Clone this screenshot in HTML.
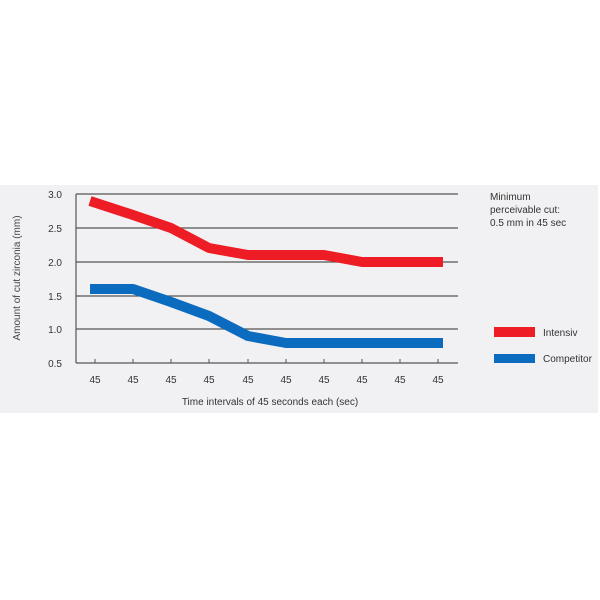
<!DOCTYPE html>
<html><head><style>body{margin:0;background:#fff}svg{display:block}</style></head><body>
<svg width="600" height="600" xmlns="http://www.w3.org/2000/svg" font-family="Liberation Sans, sans-serif">
<rect x="0" y="185" width="598" height="228" fill="#f1f1f3"/>
<g stroke="#555" stroke-width="1.2">
<line x1="76" y1="194" x2="458" y2="194"/>
<line x1="76" y1="228" x2="458" y2="228"/>
<line x1="76" y1="262" x2="458" y2="262"/>
<line x1="76" y1="296" x2="458" y2="296"/>
<line x1="76" y1="329" x2="458" y2="329"/>
<line x1="76" y1="363" x2="458" y2="363"/>
<line x1="76" y1="194" x2="76" y2="363"/>
</g>
<g stroke="#555" stroke-width="1">
<line x1="95" y1="363" x2="95" y2="359"/><line x1="133" y1="363" x2="133" y2="359"/><line x1="171" y1="363" x2="171" y2="359"/><line x1="209" y1="363" x2="209" y2="359"/><line x1="248" y1="363" x2="248" y2="359"/><line x1="286" y1="363" x2="286" y2="359"/><line x1="324" y1="363" x2="324" y2="359"/><line x1="362" y1="363" x2="362" y2="359"/><line x1="400" y1="363" x2="400" y2="359"/><line x1="438" y1="363" x2="438" y2="359"/>
</g>
<g font-size="10" fill="#333" text-anchor="end">
<text x="62" y="198">3.0</text><text x="62" y="232">2.5</text><text x="62" y="266">2.0</text><text x="62" y="300">1.5</text><text x="62" y="333">1.0</text><text x="62" y="367">0.5</text>
</g>
<g font-size="10" fill="#333" text-anchor="middle">
<text x="95" y="383">45</text><text x="133" y="383">45</text><text x="171" y="383">45</text><text x="209" y="383">45</text><text x="248" y="383">45</text><text x="286" y="383">45</text><text x="324" y="383">45</text><text x="362" y="383">45</text><text x="400" y="383">45</text><text x="438" y="383">45</text>
<text x="270" y="405">Time intervals of 45 seconds each (sec)</text>
</g>
<text transform="translate(20,278) rotate(-90)" font-size="10" fill="#444" text-anchor="middle">Amount of cut zirconia (mm)</text>
<polyline fill="none" stroke="#ee1c25" stroke-width="10" stroke-linejoin="round" points="90,201 133,215 171,228 209,248 248,255 286,255 324,255 362,262 400,262 443,262"/>
<polyline fill="none" stroke="#0b6bbf" stroke-width="10" stroke-linejoin="round" points="90,289 133,289 171,302 209,316 248,336 286,343 324,343 362,343 400,343 443,343"/>
<g font-size="10" fill="#333">
<text x="490" y="200">Minimum</text><text x="490" y="213">perceivable cut:</text><text x="490" y="226">0.5 mm in 45 sec</text>
<text x="543" y="336">Intensiv</text><text x="543" y="362">Competitor</text>
</g>
<rect x="494" y="327" width="41" height="10" fill="#ee1c25"/>
<rect x="494" y="354" width="41" height="9" fill="#0b6bbf"/>
</svg>
</body></html>
